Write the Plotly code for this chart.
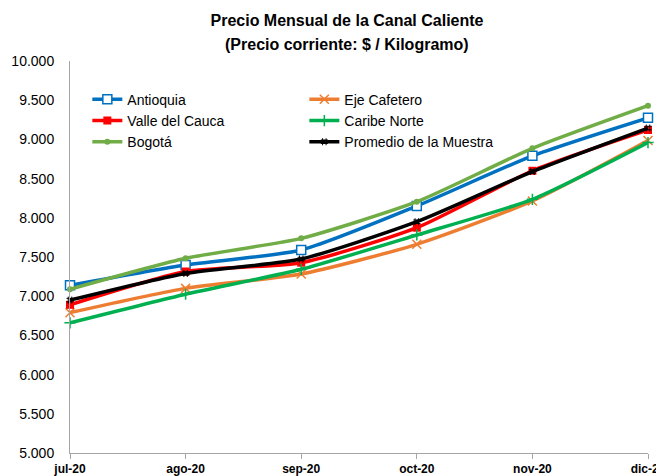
import plotly.graph_objects as go

months = ["jul-20", "ago-20", "sep-20", "oct-20", "nov-20", "dic-20"]
antioquia = [7140, 7398, 7589, 8150, 8790, 9275]
eje_cafetero = [6790, 7100, 7283, 7662, 8215, 8985]
valle = [6890, 7315, 7427, 7874, 8600, 9120]
caribe = [6660, 7025, 7343, 7781, 8236, 8960]
bogota = [7088, 7483, 7738, 8205, 8886, 9430]
promedio = [6950, 7290, 7474, 7950, 8590, 9145]

series = [
    ("Antioquia", antioquia, "#0070C0", dict(symbol="square", size=9, color="white", line=dict(color="#0070C0", width=1.5))),
    ("Eje Cafetero", eje_cafetero, "#ED7D31", dict(symbol="x-thin-open", size=9, color="#ED7D31", line=dict(color="#ED7D31", width=1.5))),
    ("Valle del Cauca", valle, "#FF0000", dict(symbol="square", size=8, color="#FF0000", line=dict(color="#FF0000", width=0))),
    ("Caribe Norte", caribe, "#00B050", dict(symbol="cross-thin-open", size=8, color="#00B050", line=dict(color="#00B050", width=1.5))),
    ("Bogotá", bogota, "#70AD47", dict(symbol="circle", size=6, color="#70AD47", line=dict(width=0))),
    ("Promedio de la Muestra", promedio, "#000000", dict(symbol="hash-open", size=7, color="#000000", line=dict(color="#000000", width=1))),
]

fig = go.Figure()
for name, vals, color, marker in series:
    fig.add_trace(go.Scatter(
        x=list(range(len(months))), y=vals, name=name, mode="lines+markers",
        line=dict(color=color, width=3.5, shape="spline", smoothing=0.6),
        marker=marker, cliponaxis=False,
    ))

# page body has an 8px margin: figure is 656x468 so it fits the 664x476 window
W, H = 656, 468
fig.update_layout(
    width=W, height=H,
    margin=dict(l=62, r=16, t=53, b=23, autoexpand=False),
    paper_bgcolor="white", plot_bgcolor="white",
    separators=",.",
    font=dict(family="Liberation Sans, Arial, sans-serif", color="#000000"),
    title=dict(
        text="<b>Precio Mensual de la Canal Caliente</b>",
        x=339 / W, xanchor="center", xref="container",
        y=1 - 12 / H, yanchor="middle", yref="container",
        font=dict(size=16, family="Liberation Sans, Arial, sans-serif"),
    ),
    annotations=[dict(
        text="<b>(Precio corriente: $ / Kilogramo)</b>",
        xref="paper", yref="paper", x=(339 - 62) / 578, y=1 + (53 - 37) / 392,
        xanchor="center", yanchor="middle", showarrow=False,
        font=dict(size=16, family="Liberation Sans, Arial, sans-serif"),
    )],
    legend=dict(
        orientation="h", x=0.03, y=0.942, xanchor="left", yanchor="top",
        entrywidth=172, entrywidthmode="pixels",
        font=dict(size=14), bgcolor="rgba(0,0,0,0)", tracegroupgap=0,
        itemwidth=30,
    ),
    showlegend=True,
)
fig.update_xaxes(
    range=[0, 5], tickmode="array", tickvals=list(range(len(months))), ticktext=[f"<b>{m}</b>" for m in months],
    showgrid=False, zeroline=False, showline=True, linecolor="#A6A6A6", linewidth=1,
    ticks="outside", ticklen=5, tickcolor="#A6A6A6", tickfont=dict(size=12), automargin=False,
    ticklabeloverflow="allow",
)
fig.update_yaxes(
    range=[5000, 10000], dtick=500, tickformat=",d",
    showgrid=False, zeroline=False, showline=True, linecolor="#A6A6A6", linewidth=1,
    ticks="", tickfont=dict(size=14), ticklabelstandoff=12, automargin=False,
)
fig.write_html("out.html")
